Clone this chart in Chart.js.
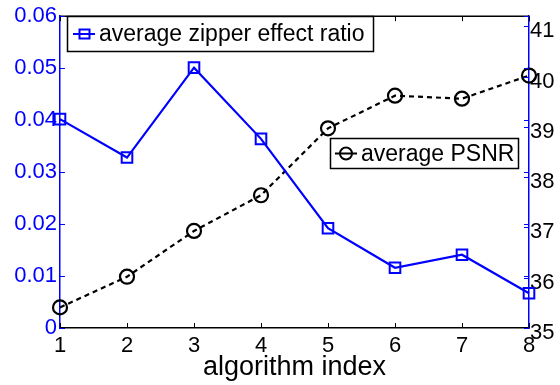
<!DOCTYPE html>
<html>
<head>
<meta charset="utf-8">
<script src="https://cdn.jsdelivr.net/npm/chart.js@4/dist/chart.umd.min.js"></script>
<style>
  html, body { margin: 0; padding: 0; background: #fff; }
  canvas { display: block; }
</style>
</head>
<body>
<canvas id="chart" width="560" height="385"></canvas>
<script>
// data
var xLabels = ['1', '2', '3', '4', '5', '6', '7', '8'];
var zipperRatio = [0.0402, 0.0328, 0.0501, 0.0364, 0.0192, 0.0116, 0.0141, 0.0067];
var psnr = [35.41, 36.02, 36.93, 37.64, 38.97, 39.62, 39.56, 40.02];

var leftTicks = [0, 0.01, 0.02, 0.03, 0.04, 0.05, 0.06];
var leftTickLabels = ['0', '0.01', '0.02', '0.03', '0.04', '0.05', '0.06'];
var rightTicks = [35, 36, 37, 38, 39, 40, 41];

var BLUE = '#0000ff';
var FONT = "'Liberation Sans', Arial, Helvetica, sans-serif";

// inward tick marks, top border and the two boxed legends (matlab style)
var matlabBox = {
  id: 'matlabBox',
  afterDraw: function(chart) {
    var ctx = chart.ctx;
    var a = chart.chartArea;
    var xs = chart.scales.x, ys = chart.scales.y, y2 = chart.scales.y2;
    var len = 5;

    function seg(x1, y1, x2, y2_, color) {
      ctx.strokeStyle = color;
      ctx.beginPath();
      ctx.moveTo(x1, y1);
      ctx.lineTo(x2, y2_);
      ctx.stroke();
    }

    ctx.save();
    // top border
    ctx.lineWidth = 1.5;
    seg(a.left, a.top, a.right, a.top, '#000');
    ctx.lineWidth = 1;

    xs.ticks.forEach(function(t, i) {
      var px = Math.round(xs.getPixelForTick(i)) + 0.5;
      seg(px, a.bottom, px, a.bottom - len, '#000');
      seg(px, a.top, px, a.top + len, '#000');
    });
    ys.ticks.forEach(function(t, i) {
      var py = Math.round(ys.getPixelForTick(i)) + 0.5;
      seg(a.left, py, a.left + len, py, BLUE);
      seg(a.right, py, a.right - len, py, BLUE);
    });
    y2.ticks.forEach(function(t, i) {
      var py = Math.round(y2.getPixelForTick(i)) + 0.5;
      seg(a.right, py, a.right - len, py, BLUE);
    });

    // legends
    var ds = chart.data.datasets;
    ctx.font = '23px ' + FONT;
    ctx.textBaseline = 'middle';
    ctx.textAlign = 'left';

    // legend 1 : zipper ratio
    ctx.fillStyle = '#fff';
    ctx.fillRect(67.5, 16.5, 306, 35);
    ctx.lineWidth = 1.5;
    ctx.strokeStyle = '#000';
    ctx.strokeRect(67.5, 16.5, 306, 35);
    ctx.lineWidth = 2;
    seg(73, 34, 95, 34, BLUE);
    ctx.strokeStyle = BLUE;
    ctx.strokeRect(79.5, 29.5, 10, 9);
    ctx.fillStyle = '#000';
    ctx.fillText(ds[0].label, 99, 35);

    // legend 2 : psnr
    ctx.fillStyle = '#fff';
    ctx.fillRect(330.5, 138.5, 188, 30);
    ctx.lineWidth = 1.5;
    ctx.strokeStyle = '#000';
    ctx.strokeRect(330.5, 138.5, 188, 30);
    ctx.lineWidth = 2;
    seg(335, 153.5, 357, 153.5, '#000');
    ctx.beginPath();
    ctx.arc(346, 153.5, 6, 0, Math.PI * 2);
    ctx.stroke();
    ctx.fillStyle = '#000';
    ctx.fillText(ds[1].label, 361, 155);

    ctx.restore();
  }
};

var ctx = document.getElementById('chart').getContext('2d');
var chart = new Chart(ctx, {
  type: 'line',
  data: {
    labels: xLabels,
    datasets: [{
      label: 'average zipper effect ratio',
      data: zipperRatio,
      yAxisID: 'y',
      borderColor: BLUE,
      backgroundColor: 'transparent',
      borderWidth: 2.2,
      pointStyle: 'rect',
      pointRadius: 7.5,
      pointBorderWidth: 2,
      pointBorderColor: BLUE,
      pointBackgroundColor: 'transparent',
      tension: 0,
      clip: false
    }, {
      label: 'average PSNR',
      data: psnr,
      yAxisID: 'y2',
      borderColor: '#000',
      backgroundColor: 'transparent',
      borderWidth: 2.2,
      borderDash: [5, 4],
      pointStyle: 'circle',
      pointRadius: 7,
      pointBorderWidth: 2.2,
      pointBorderColor: '#000',
      pointBackgroundColor: 'transparent',
      tension: 0,
      clip: false
    }]
  },
  options: {
    responsive: false,
    devicePixelRatio: 1,
    animation: false,
    layout: { padding: { top: 13, left: 0, right: 0, bottom: 0 } },
    plugins: {
      legend: { display: false },
      tooltip: { enabled: false }
    },
    scales: {
      x: {
        type: 'category',
        offset: false,
        grid: { drawOnChartArea: false, drawTicks: false },
        border: { display: true, color: '#000', width: 1.5 },
        ticks: { color: '#000', padding: 5, font: { family: FONT, size: 22 }, maxRotation: 0, autoSkip: false },
        title: {
          display: true,
          text: 'algorithm index',
          color: '#000',
          font: { family: FONT, size: 27 },
          padding: { top: 0, bottom: 1 }
        },
        afterFit: function(scale) { scale.height = 57; }
      },
      y: {
        position: 'left',
        min: 0,
        max: 0.06,
        grid: { drawOnChartArea: false, drawTicks: false },
        border: { display: true, color: BLUE, width: 1.5 },
        ticks: {
          color: BLUE,
          padding: 3,
          autoSkip: false,
          font: { family: FONT, size: 22 },
          callback: function(v, i) { return leftTickLabels[i]; }
        },
        afterBuildTicks: function(scale) {
          scale.ticks = leftTicks.map(function(v) { return { value: v }; });
        },
        afterFit: function(scale) { scale.width = 60; }
      },
      y2: {
        position: 'right',
        min: 35,
        max: 41.2,
        grid: { drawOnChartArea: false, drawTicks: false },
        border: { display: true, color: BLUE, width: 1.5 },
        ticks: {
          color: '#000',
          padding: 1,
          labelOffset: 5,
          autoSkip: false,
          font: { family: FONT, size: 22 }
        },
        afterBuildTicks: function(scale) {
          scale.ticks = rightTicks.map(function(v) { return { value: v }; });
        },
        afterFit: function(scale) { scale.width = 31; }
      }
    }
  },
  plugins: [matlabBox]
});
</script>
</body>
</html>
